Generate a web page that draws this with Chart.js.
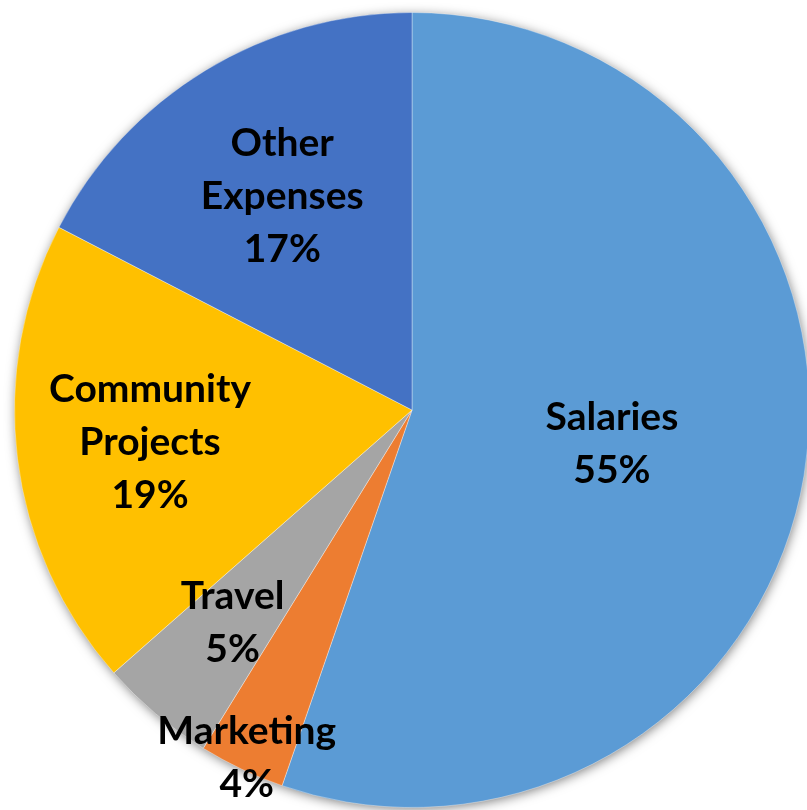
<!DOCTYPE html>
<html>
<head>
<meta charset="utf-8">
<script src="https://cdn.jsdelivr.net/npm/chart.js@4/dist/chart.umd.min.js"></script>
<style>
    html, body { margin: 0; padding: 0; background: #fff; overflow: hidden; }
    #wrap { width: 824px; height: 810px; }
</style>
</head>
<body>
<div id="wrap"><canvas id="grafico"></canvas></div>
<script>
// dados do grafico
const categorias = ["Salaries", "Marketing", "Travel", "Community Projects", "Other Expenses"];
const valores = [55.3, 3.5, 4.7, 19.1, 17.4];
const cores = ["#5B9BD5", "#ED7D31", "#A5A5A5", "#FFC000", "#4472C4"];

// distancia do rotulo ao centro (fracao do raio)
const distRotulo = [0.51, 0.97, 0.70, 0.664, 0.628];

const sombraPlugin = {
    id: "sombra",
    beforeDatasetsDraw(chart) {
        const arc = chart.getDatasetMeta(0).data[0];
        if (!arc) return;
        const ctx = chart.ctx;
        ctx.save();
        ctx.shadowColor = "rgba(0,0,0,0.55)";
        ctx.shadowBlur = 12;
        ctx.shadowOffsetX = 1;
        ctx.shadowOffsetY = 2;
        ctx.fillStyle = "#fff";
        ctx.beginPath();
        ctx.arc(arc.x, arc.y, arc.outerRadius - 1, 0, Math.PI * 2);
        ctx.fill();
        ctx.restore();
    }
};

const rotulosPlugin = {
    id: "rotulos",
    afterDatasetsDraw(chart) {
        const ctx = chart.ctx;
        const meta = chart.getDatasetMeta(0);
        const total = valores.reduce((a, b) => a + b, 0);
        ctx.save();
        ctx.fillStyle = "#000";
        ctx.font = "bold 39px Lato";
        ctx.textAlign = "center";
        ctx.textBaseline = "middle";
        meta.data.forEach((arc, i) => {
            const p = arc.getProps(["x", "y", "startAngle", "endAngle", "outerRadius"], true);
            const meio = (p.startAngle + p.endAngle) / 2;
            const r = p.outerRadius * distRotulo[i];
            const cx = p.x + Math.cos(meio) * r;
            const cy = p.y + Math.sin(meio) * r;
            const linhas = categorias[i].split(" ");
            linhas.push(Math.round(valores[i] / total * 100) + "%");
            const alt = 53;
            const topo = cy - (linhas.length - 1) * alt / 2;
            linhas.forEach((l, k) => ctx.fillText(l, cx, topo + k * alt));
        });
        ctx.restore();
    }
};

new Chart(document.getElementById("grafico"), {
    type: "pie",
    data: {
        labels: categorias,
        datasets: [{
            data: valores,
            backgroundColor: cores,
            borderColor: "rgba(255,255,255,0.35)",
            borderWidth: 1
        }]
    },
    options: {
        responsive: true,
        maintainAspectRatio: false,
        animation: false,
        layout: { padding: { left: 14, top: 12, right: 14, bottom: 2 } },
        plugins: {
            legend: { display: false },
            tooltip: { enabled: false }
        }
    },
    plugins: [sombraPlugin, rotulosPlugin]
});
</script>
</body>
</html>
